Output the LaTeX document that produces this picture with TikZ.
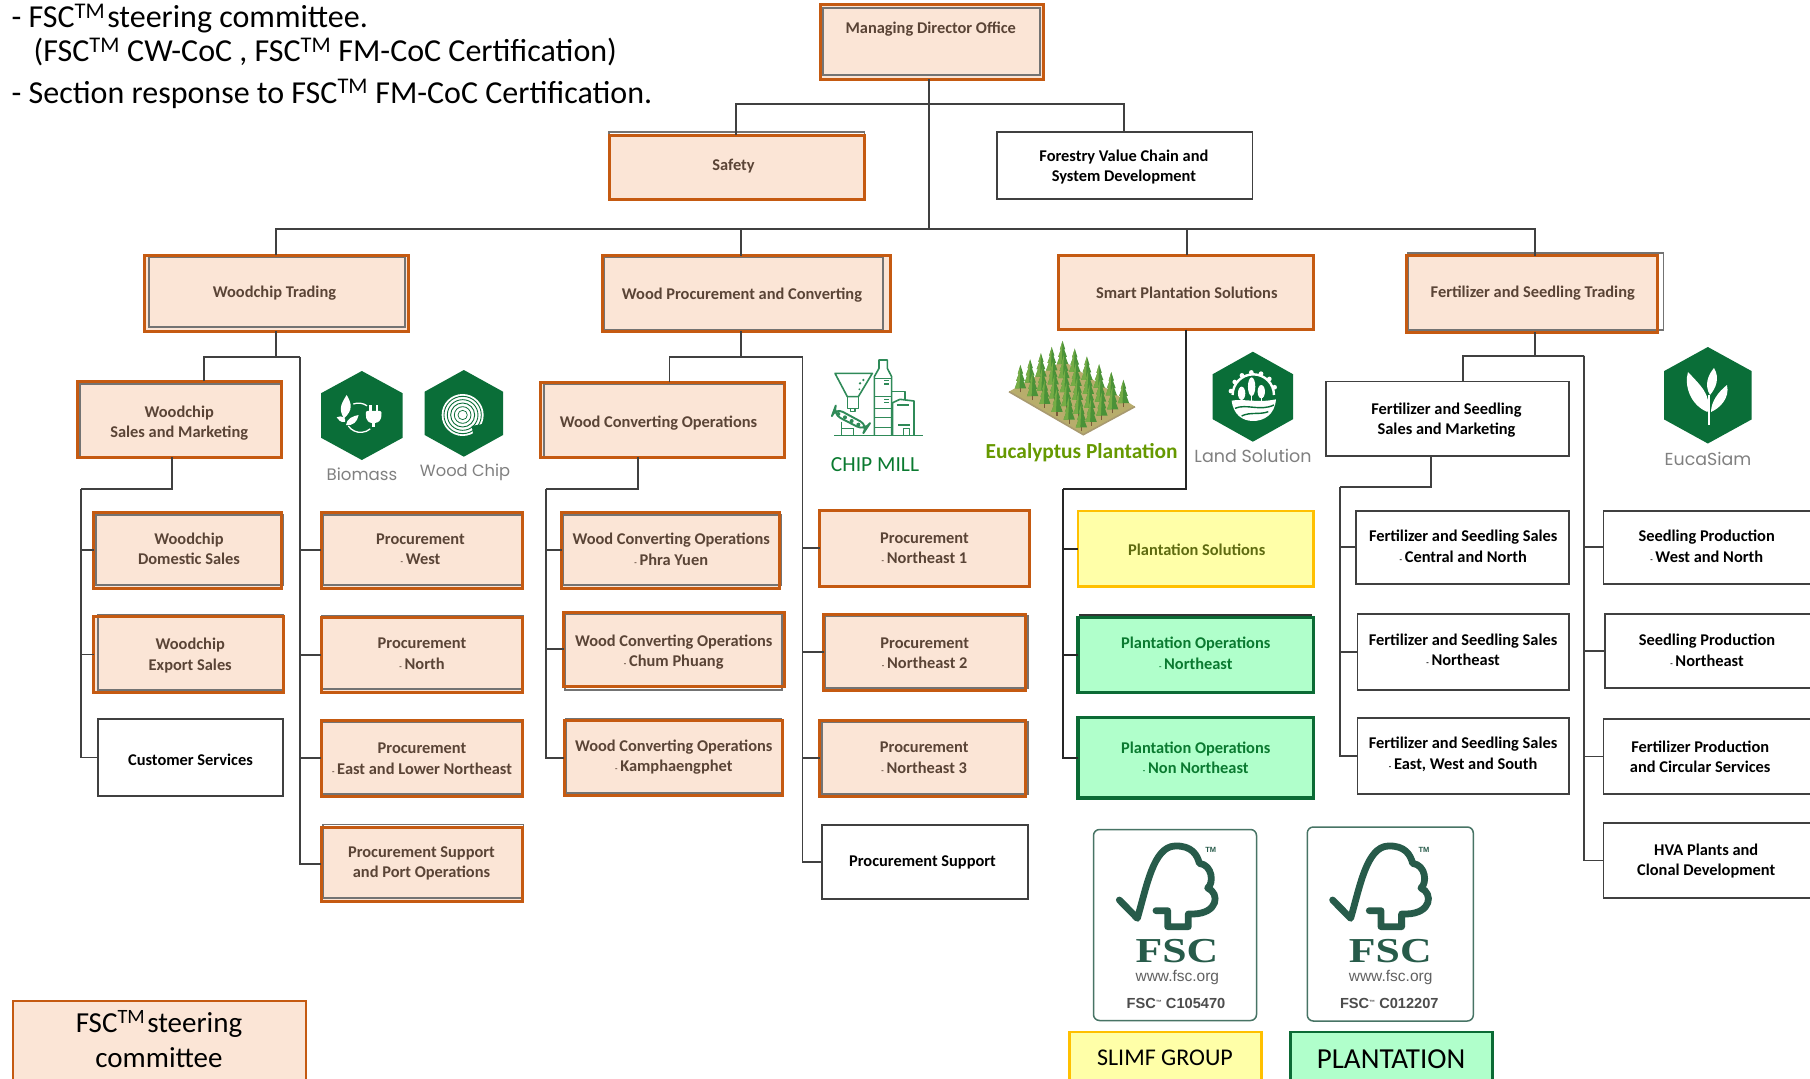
\documentclass[tikz,border=0pt]{standalone}
\usepackage{fontspec}
\setmainfont{Carlito}
\newfontfamily\polab{Poppins}
\newfontfamily\lsans{Liberation Sans}
\newfontfamily\lserif{Liberation Serif}
\definecolor{orng}{HTML}{C55A11}
\definecolor{pch}{HTML}{FBE5D6}
\definecolor{ylw}{HTML}{FFC000}
\definecolor{ylwf}{HTML}{FFFFA8}
\definecolor{grnf}{HTML}{B0FFCB}
\definecolor{grnd}{HTML}{0B6B35}
\definecolor{hexg}{HTML}{0A6E38}
\definecolor{logog}{HTML}{275B4A}
\definecolor{ln}{HTML}{404040}
\definecolor{peachtxt}{HTML}{5A4436}
\definecolor{ylwtxt}{HTML}{5F6B10}
\definecolor{euc}{HTML}{669900}
\definecolor{treed}{HTML}{4A9238}
\definecolor{treel}{HTML}{76AC46}
\definecolor{soil}{HTML}{B8AD6C}
\definecolor{soild}{HTML}{A89A70}
\definecolor{trunk}{HTML}{7A5A3A}
\definecolor{millc}{HTML}{2F8A58}
\tikzset{
 conn/.style={draw=ln,line width=1.9pt},
 frm/.style={draw=black!55,line width=1.5pt},
 basebox/.style={inner sep=0pt,outer sep=0pt,rectangle},
 peach/.style={basebox,fill=pch,draw=orng,line width=3pt},
 plainb/.style={basebox,fill=white,draw=black!75,line width=1.8pt},
 yellowb/.style={basebox,fill=ylwf,draw=ylw,line width=2.8pt},
 greenb/.style={basebox,fill=grnf,draw=grnd,line width=3.2pt},
 boxtxt/.style={inner sep=0pt,align=center,font=\fontsize{16.4}{20.5}\selectfont\bfseries},
 peach label/.style={boxtxt,text=peachtxt},
 plainb label/.style={boxtxt,text=black},
 yellowb label/.style={boxtxt,text=ylwtxt},
 greenb label/.style={boxtxt,text=grnd!90!green},
 toptext/.style={anchor=base west,inner sep=0pt,font=\fontsize{32}{34}\selectfont},
 iconlab/.style={inner sep=0pt,text=black!50},
 legend/.style={inner sep=0pt,outer sep=0pt,rectangle,draw=#1,line width=2.4pt,align=center},
 logobox/.style={inner sep=0pt,outer sep=0pt,rectangle,rounded corners=6pt,draw=logog!85,line width=1.5pt,fill=white},
 logopath/.style={draw=logog,line width=6.8pt,line cap=round,line join=round},
 mill/.style={draw=millc,line width=1.6pt,line join=round},
}
\newcommand{\tmk}{\textsuperscript{TM}}
\newcommand{\dsh}{{\fontsize{8}{8}\selectfont -}\,}
% style,name,x1,y1,x2,y2,dx,dy,text
\newcommand{\bx}[9]{%
 \pgfmathsetmacro\bxw{#5-#3}\pgfmathsetmacro\bxh{#6-#4}%
 \pgfmathsetmacro\bxcx{(#3+#5)/2}\pgfmathsetmacro\bxcy{(#4+#6)/2+1}%
 \node[#1,minimum width=\bxw pt,minimum height=\bxh pt] (#2) at (\bxcx,\bxcy-1) {};
 \node[#1 label] (#2t) at (\bxcx+#7,\bxcy+#8) {#9};
}
\newcommand{\hexa}[4]{%
 \pgfmathsetmacro\hq{(#4-#2)/4}\pgfmathsetmacro\hc{(#1+#3)/2}%
 \fill[hexg] (\hc,#2) -- (#3,#2+\hq) -- (#3,#4-\hq) -- (\hc,#4) -- (#1,#4-\hq) -- (#1,#2+\hq) -- cycle;
}
\newcommand{\fr}[4]{\draw[frm] (#1,#2) rectangle (#3,#4);}
\newcommand{\fsclogo}[3]{%
 \begin{scope}[shift={(#1,#2)},x=0.3333pt,y=-0.3333pt]
 \draw[logopath] (118,240) -- (172,295) .. controls (200,200) and (220,80) .. (285,78)
   .. controls (335,76) and (352,105) .. (358,130)
   .. controls (398,135) and (402,190) .. (383,204)
   .. controls (420,220) and (415,280) .. (340,282) -- (325,282) -- (325,320) -- (263,320) -- (263,272) -- (228,272);
 \node[inner sep=0pt,text=logog,font=\lsans\bfseries\fontsize{7.5}{8}\selectfont] at (392,90) {TM};
 \node[inner sep=0pt,text=logog,font=\lserif\bfseries\fontsize{35}{36}\selectfont] at (291,392) {\scalebox{1.25}[1]{FSC}};
 \node[inner sep=0pt,text=black!62,font=\lsans\fontsize{15.5}{16}\selectfont] at (292,472) {www.fsc.org};
 \node[inner sep=0pt,text=black!70,font=\lsans\bfseries\fontsize{14.6}{15}\selectfont] at (288,550) {FSC\raisebox{.45ex}{\fontsize{6}{6}\selectfont ™} #3};
 \end{scope}
}
\begin{document}
\begin{tikzpicture}[x=1pt,y=-1pt]
\path[use as bounding box,fill=white] (0,0) rectangle (1810,1079);
% ---- top notes
\node[toptext] (n1) at (11.5,27.5) {- FSC\tmk\kern2pt steering committee.};
\node[toptext] (n2) at (33.5,61.5) {(FSC\tmk\ CW-CoC , FSC\tmk\ FM-CoC Certification)};
\node[toptext] (n3) at (11.5,103) {- Section response to FSC\tmk\ FM-CoC Certification.};
% ---- boxes
\bx{peach}{md}{820.5}{4}{1043}{79}{-1}{-13}{Managing Director Office}
\bx{peach}{safety}{609}{135}{864}{199}{-3}{-1.5}{Safety}
\bx{plainb}{fv}{997.3}{132}{1252.5}{199}{-1}{0.5}{Forestry Value Chain and\\System Development}
\bx{peach}{wt}{144.5}{255}{408.5}{331}{-2}{-1}{Woodchip Trading}
\bx{peach}{wp}{602}{255.5}{890}{331}{-4}{0.5}{Wood Procurement and Converting}
\bx{peach}{sp}{1058}{255}{1313.5}{329.5}{1}{0}{Smart Plantation Solutions}
\bx{peach}{ft}{1406}{255.5}{1657.5}{332}{1}{-1.5}{Fertilizer and Seedling Trading}
\bx{peach}{wsm}{77}{381}{281.5}{457}{0}{3}{Woodchip\\Sales and Marketing}
\bx{peach}{wco}{540}{382}{784}{457}{-3.5}{2.5}{Wood Converting Operations}
\bx{plainb}{fsm}{1326.3}{381.5}{1568.7}{456}{-1}{0.5}{Fertilizer and Seedling\\Sales and Marketing}
\bx{peach}{wd}{93.5}{512.5}{281.5}{588}{1.5}{-2.5}{Woodchip\\Domestic Sales}
\bx{peach}{we}{93.5}{616.5}{283}{692.5}{2}{0}{Woodchip\\Export Sales}
\bx{plainb}{cs}{98}{719}{283}{796}{0}{1.5}{Customer Services}
\bx{peach}{pw}{321}{512.5}{522}{588}{-1}{-2}{Procurement\\\dsh West}
\bx{peach}{pn}{321}{617.5}{522}{692.5}{0.5}{-2.5}{Procurement\\\dsh North}
\bx{peach}{pe}{321}{720.5}{522}{796}{0.5}{-0.5}{Procurement\\\dsh East and Lower Northeast}
\bx{peach}{pp}{321}{827}{522}{901}{0}{-1.5}{Procurement Support\\and Port Operations}
\bx{peach}{cp}{561.5}{512.5}{779}{588}{1}{-2}{Wood Converting Operations\\\dsh Phra Yuen}
\bx{peach}{cc}{563.5}{612}{784}{686}{0}{2}{Wood Converting Operations\\\dsh Chum Phuang}
\bx{peach}{ck}{564}{720.5}{782.5}{795.5}{0.5}{-2}{Wood Converting Operations\\\dsh Kamphaengphet}
\bx{peach}{nea}{819.5}{510}{1029.5}{586.5}{0}{-1}{Procurement\\\dsh Northeast 1}
\bx{peach}{neb}{823.5}{614.5}{1025}{690}{0.5}{0}{Procurement\\\dsh Northeast 2}
\bx{peach}{nec}{819.5}{720.5}{1025}{796}{2}{-1.5}{Procurement\\\dsh Northeast 3}
\bx{plainb}{ps}{822}{825}{1028}{899}{-2.5}{-1}{Procurement Support}
\bx{yellowb}{pls}{1078}{511}{1313.5}{586.5}{1}{0}{Plantation Solutions}
\bx{greenb}{pon}{1078}{617.5}{1313.5}{692.5}{0}{-2.5}{Plantation Operations\\\dsh Northeast}
\bx{greenb}{pox}{1078}{717.5}{1313.5}{798}{0}{-1.2}{Plantation Operations\\\dsh Non Northeast}
\bx{plainb}{fc}{1355.8}{510.7}{1568.7}{584}{1}{-2}{Fertilizer and Seedling Sales\\\dsh Central and North}
\bx{plainb}{fn}{1357.5}{614}{1568.7}{690}{0}{-3}{Fertilizer and Seedling Sales\\\dsh Northeast}
\bx{plainb}{fe}{1357.5}{717.7}{1568.7}{794}{0}{-2.5}{Fertilizer and Seedling Sales\\\dsh East, West and South}
\bx{plainb}{sw}{1603.4}{510.7}{1815}{584}{-2.5}{-2}{Seedling Production\\\dsh West and North}
\bx{plainb}{sn}{1605}{614}{1815}{688}{-3}{-1.5}{Seedling Production\\\dsh Northeast}
\bx{plainb}{fp}{1603.4}{719}{1815}{794}{-9}{-0.5}{Fertilizer Production\\and Circular Services}
\bx{plainb}{hv}{1603.4}{823}{1815}{898}{-3}{-0.5}{HVA Plants and\\Clonal Development}
% ---- misregistered inner frames
\fr{823}{8}{1040}{75}
\fr{609}{132}{864.5}{199}
\fr{149}{257}{405}{327}
\fr{604}{257}{883}{330}
\fr{1408}{253}{1663.4}{330}
\fr{80}{384}{281.5}{458.5}
\fr{544}{384}{784}{458}
\fr{96}{515}{283}{585}
\fr{98}{615}{283}{690}
\fr{323}{515}{523.5}{585}
\fr{322}{615.5}{523.5}{689}
\fr{322}{722}{523.5}{794}
\fr{323}{824.5}{523.5}{898}
\fr{563}{515}{781}{585}
\fr{565}{614}{782}{690}
\fr{566}{718.5}{781.5}{793}
\fr{825}{616}{1028}{688}
\fr{822}{722}{1028}{794}
\draw[draw=black!80,line width=1.5pt] (1079,615) -- (1312,615);
% orange outlines lie on top of the grey frames
\foreach \n in {md,safety,wt,wp,sp,ft,wsm,wco,wd,we,pw,pn,pe,pp,cp,cc,ck,nea,neb,nec}{
 \draw[draw=orng,line width=3pt] (\n.north west) rectangle (\n.south east);
}
% ---- connectors
\coordinate (mb) at (929,229);
\coordinate (s1) at (736,104);
\coordinate (s2) at (1124,104);
\coordinate (b1) at (276,229);
\coordinate (b2) at (741,229);
\coordinate (b3) at (1187,229);
\coordinate (b4) at (1534.7,229);
\draw[conn] (mb |- md.south) -- (mb);
\draw[conn] (safety.north -| s1) -- (s1) -- (s2) -- (s2 |- fv.north);
\draw[conn] (b1 |- wt.north) -- (b1) -- (b4) -- (b4 |- ft.north);
\draw[conn] (b2) -- (b2 |- wp.north);
\draw[conn] (b3) -- (b3 |- sp.north);
% woodchip
\coordinate (wt1) at (276,357);
\coordinate (wt2) at (203.7,357);
\coordinate (wt3) at (300,357);
\draw[conn] (wt1 |- wt.south) -- (wt1);
\draw[conn] (wsm.north -| wt2) -- (wt2) -- (wt3);
\draw[conn] (wt3) |- (pw.west);
\draw[conn] (wt3) |- (pn.west);
\draw[conn] (wt3) |- (pe.west);
\draw[conn] (wt3) |- (pp.west);
\coordinate (wa) at (172,489);
\coordinate (wb) at (81.4,489);
\draw[conn] (wa |- wsm.south) -- (wa) -- (wb);
\draw[conn] (wb) |- (wd.west);
\draw[conn] (wb) |- (we.west);
\draw[conn] (wb) |- (cs.west);
% wood procurement
\coordinate (wp1) at (741,357);
\coordinate (wp2) at (669.5,357);
\coordinate (wp3) at (802.5,357);
\draw[conn] (wp1 |- wp.south) -- (wp1);
\draw[conn] (wco.north -| wp2) -- (wp2) -- (wp3);
\draw[conn] (wp3) |- (nea.west);
\draw[conn] (wp3) |- (neb.west);
\draw[conn] (wp3) |- (nec.west);
\draw[conn] (wp3) |- (ps.west);
\coordinate (ca) at (637.8,489);
\coordinate (cb) at (546,489);
\draw[conn] (ca |- wco.south) -- (ca) -- (cb);
\draw[conn] (cb) |- (cp.west);
\draw[conn] (cb) |- (cc.west);
\draw[conn] (cb) |- (ck.west);
% smart plantation
\coordinate (pa) at (1186,489);
\coordinate (pb) at (1062.6,489);
\draw[conn,draw=black!85] (pa |- sp.south) -- (pa) -- (pb);
\draw[conn,draw=black!85] (pb) |- (pls.west);
\draw[conn,draw=black!85] (pb) |- (pon.west);
\draw[conn,draw=black!85] (pb) |- (pox.west);
% fertilizer
\coordinate (ft1) at (1534.7,355.7);
\coordinate (ft2) at (1463,355.7);
\coordinate (ft3) at (1584.3,355.7);
\draw[conn] (ft1 |- ft.south) -- (ft1);
\draw[conn] (fsm.north -| ft2) -- (ft2) -- (ft3);
\draw[conn] (ft3) |- (sw.west);
\draw[conn] (ft3) |- (sn.west);
\draw[conn] (ft3) |- (fp.west);
\draw[conn] (ft3) |- (hv.west);
\coordinate (fa) at (1431.4,487);
\coordinate (fb) at (1340,487);
\draw[conn] (fa |- fsm.south) -- (fa) -- (fb);
\draw[conn] (fb) |- (fc.west);
\draw[conn] (fb) |- (fn.west);
\draw[conn] (fb) |- (fe.west);
% ---- hexagon icons
\hexa{321}{371}{402.7}{460}
\hexa{424.7}{370}{503}{456.7}
\hexa{1212.7}{351.7}{1293}{441.7}
\hexa{1664}{347}{1751.7}{443.5}
\node[iconlab,font=\polab\fontsize{16.6}{18}\selectfont] (lb) at (362,474.5) {Biomass};
\node[iconlab,font=\polab\fontsize{16.3}{18}\selectfont] (lw) at (465,472) {Wood Chip};
\node[iconlab,font=\polab\fontsize{17.5}{18}\selectfont] (ll) at (1253,456) {Land Solution};
\node[iconlab,font=\polab\fontsize{17.4}{18}\selectfont] (le) at (1708,459) {EucaSiam};
% biomass glyph
\begin{scope}[shift={(300,340)},x=0.3333pt,y=-0.3333pt]
 \fill[white] (132,235) .. controls (112,205) and (128,185) .. (140,165) .. controls (155,190) and (160,210) .. (132,235) -- cycle;
 \fill[white] (110,232) .. controls (125,225) and (140,232) .. (135,246) .. controls (122,248) and (115,240) .. (110,232) -- cycle;
 \fill[white] (138,255) .. controls (140,235) and (160,228) .. (176,225) .. controls (172,245) and (160,258) .. (138,255) -- cycle;
 \draw[white,line width=1.3pt] (160,192) arc[start angle=-110,end angle=-55,radius=45];
 \draw[white,line width=1.3pt] (145,258) arc[start angle=145,end angle=50,radius=45];
 \fill[white,rounded corners=2pt] (197,213) -- (245,213) -- (243,240) -- (228,250) -- (212,250) -- (199,240) -- cycle;
 \fill[white] (208,196) rectangle (216,215);
 \fill[white] (227,196) rectangle (235,215);
 \fill[white] (216,248) rectangle (224,262);
\end{scope}
% wood chip glyph
\begin{scope}[shift={(300,340)},x=0.3333pt,y=-0.3333pt]
 \fill[white] (488,225) circle[radius=63];
 \foreach \r/\w in {56/0.9,46/0.9,36/0.9,25/0.8,14/0.7}{\draw[hexg,line width=\w pt] (488,225) circle[radius=\r];}
 \fill[hexg] (515,258) -- (558,250) -- (560,292) -- (522,294) -- cycle;
\end{scope}
% land glyph, mill, plantation
\begin{scope}[shift={(810,340)},x=0.3333pt,y=-0.3333pt]
 \draw[white,line width=2.4pt] (1268,165) arc[start angle=-180,end angle=0,radius=62];
 \foreach \a in {-170,-145,...,-10}{\fill[white] (1330,165) ++(\a:68) circle[radius=7];}
 \fill[white] (1265,182) .. controls (1300,175) and (1340,190) .. (1398,178) .. controls (1395,225) and (1360,243) .. (1330,243) .. controls (1295,243) and (1270,222) .. (1265,182) -- cycle;
 \draw[hexg,line width=1.4pt] (1275,205) .. controls (1310,190) and (1350,215) .. (1392,195);
 \draw[hexg,line width=1.4pt] (1295,228) .. controls (1320,215) and (1350,225) .. (1375,215);
 \foreach \x/\y/\h in {1295/160/20,1325/140/28,1354/155/20}{
  \fill[white] (\x,\y) ellipse[x radius=11,y radius=\h];
  \draw[white,line width=1.2pt] (\x,\y) -- (\x,190);
 }
 % mill
 \draw[mill] (75,100) -- (187,100) -- (145,170) -- (112,170) -- cycle;
 \draw[mill] (112,170) rectangle (145,205);
 \draw[mill] (122,205) -- (122,215) -- (135,215) -- (135,205);
 \fill[millc] (150,130) circle[radius=4] (160,120) circle[radius=4] (148,148) circle[radius=3];
 \draw[mill,line width=1.9pt,rounded corners=9pt] (68,222) -- (75,203) -- (175,257) -- (165,272) -- cycle;
 \foreach \x/\y in {85/222,105/232,125/243,145/254}{\fill[millc] (\x,\y) circle[radius=6];}
 \draw[mill] (95,245) -- (95,287) (130,265) -- (130,287) (95,265) -- (130,265);
 \draw[mill] (193,287) -- (193,110) -- (207,85) -- (207,60) -- (232,60) -- (232,85) -- (245,110) -- (245,287);
 \draw[mill] (193,115) -- (245,115) (193,170) -- (245,170) (193,205) -- (245,205) (193,232) -- (245,232) (193,262) -- (245,262);
 \draw[mill] (222,122) -- (238,122) (222,132) -- (238,132) (222,178) -- (238,178) (222,188) -- (238,188);
 \draw[mill] (245,155) -- (285,155) -- (285,178);
 \draw[mill] (248,287) -- (248,188) -- (270,178) -- (312,183) -- (312,287);
 \draw[mill] (260,195) -- (298,195);
 \draw[mill] (280,287) -- (280,265) -- (298,265) -- (298,287);
 \draw[mill] (265,255) -- (300,255);
 \draw[mill] (73,287) -- (340,287);
 % plantation
 \fill[soil] (597,155) -- (760,62) -- (975,200) -- (820,284) -- cycle;
 \draw[line width=1.6pt,draw=soild] (597,155) -- (820,284) -- (975,200);
 \foreach \i in {0.05,0.22,0.39,0.56,0.73,0.90}{
  \foreach \j in {0.08,0.28,0.48,0.68,0.86}{
   \pgfmathsetmacro\tx{760+\i*215-\j*162}
   \pgfmathsetmacro\ty{64+\i*138+\j*93}
   \draw[draw=trunk,line width=1.1pt] (\tx,\ty+6) -- (\tx,\ty-10);
   \fill[treed] (\tx,\ty-76) -- (\tx+8,\ty-50) -- (\tx+5,\ty-50) -- (\tx+13,\ty-28) -- (\tx+9,\ty-28) -- (\tx+17,\ty-6) -- (\tx-17,\ty-6) -- (\tx-9,\ty-28) -- (\tx-13,\ty-28) -- (\tx-5,\ty-50) -- (\tx-8,\ty-50) -- cycle;
   \fill[treel] (\tx,\ty-76) -- (\tx-8,\ty-50) -- (\tx-5,\ty-50) -- (\tx-13,\ty-28) -- (\tx-9,\ty-28) -- (\tx-17,\ty-6) -- (\tx-3,\ty-6) -- cycle;
  }
 }
 \node[inner sep=0pt,text=euc,font=\fontsize{21.4}{24}\selectfont\bfseries] (ep) at (815,339) {Eucalyptus Plantation};
 \node[inner sep=0pt,text=grnd!90!green,font=\fontsize{21.5}{24}\selectfont] (cm) at (195,374) {CHIP MILL};
\end{scope}
% eucasiam glyph
\fill[white] (1707.5,412) .. controls (1690,405) and (1684,385) .. (1688,372) .. controls (1700,385) and (1712,395) .. (1707.5,412) -- cycle;
\fill[white] (1710,395) .. controls (1704,385) and (1708,375) .. (1714,368) .. controls (1720,378) and (1716,388) .. (1710,395) -- cycle;
\fill[white] (1711,412) .. controls (1711,402) and (1718,392) .. (1727,385) .. controls (1730,398) and (1720,408) .. (1711,412) -- cycle;
\draw[white,line width=1.2pt] (1709,425) -- (1709,395);
% ---- FSC cards
\node[logobox,minimum width=163pt,minimum height=191pt] (c1) at (1175,925) {};
\node[logobox,minimum width=166pt,minimum height=194pt] (c2) at (1390.3,924) {};
\fsclogo{1080}{820}{C105470}
\fsclogo{1293.3}{820}{C012207}
% ---- legends
\node[legend=ylw,fill=ylwf,minimum width=192pt,minimum height=56pt] (sl) at (1165.5,1060) {};
\node[inner sep=0pt,font=\fontsize{24}{26}\selectfont] (slt) at (1165,1058) {SLIMF GROUP};
\node[legend=grnd,fill=grnf,minimum width=202pt,minimum height=56pt] (pl) at (1391.5,1060) {};
\node[inner sep=0pt,font=\fontsize{29}{32}\selectfont] (plt) at (1391,1059) {PLANTATION};
\node[legend=orng,fill=pch,minimum width=293pt,minimum height=82pt] (fl) at (159.5,1042) {};
\node[inner sep=0pt,align=center,font=\fontsize{29}{35}\selectfont] (flt) at (159,1039) {FSC\tmk\kern2pt steering\\committee};
\end{tikzpicture}
\end{document}
